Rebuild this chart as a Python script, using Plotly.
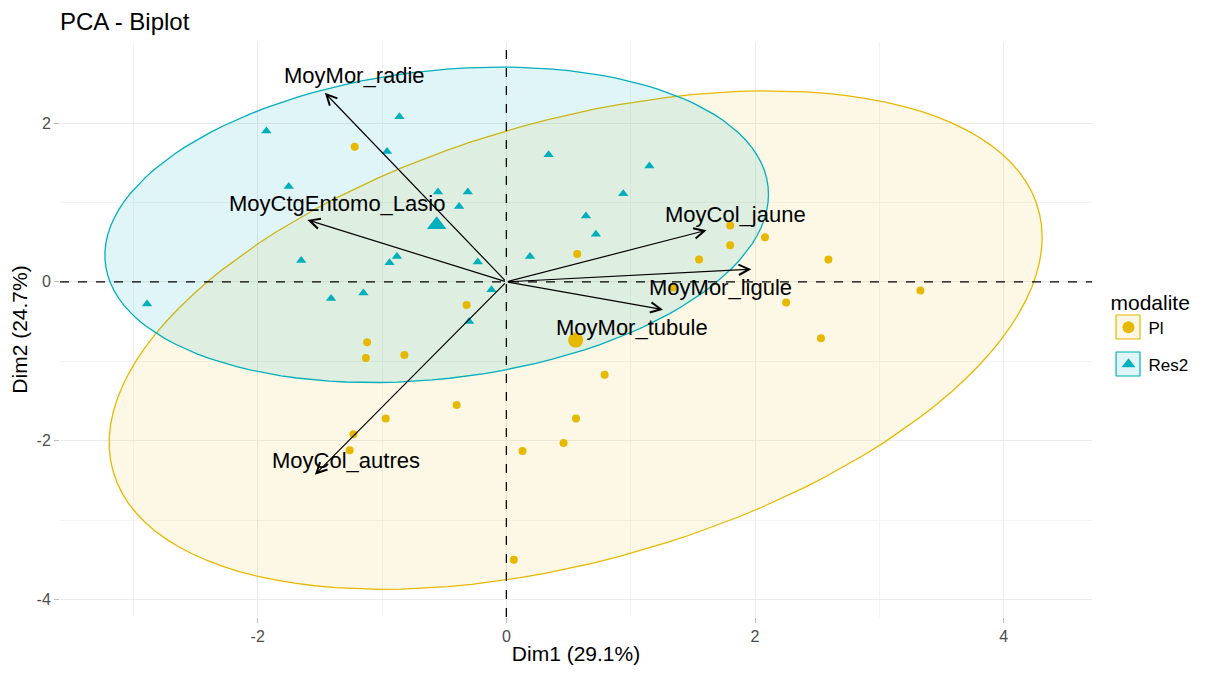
import numpy as np
import plotly.graph_objects as go

# ---------------- data ----------------
pl_x = [-1.22, -0.32, 0.57, 1.80, 2.08, 1.80, 1.55, 2.59, 3.33, 2.25, 1.34, 2.53,
        0.79, 0.56, 0.46, 0.13, 0.06, -1.12, -1.13, -0.82, -0.40, -0.97, -1.23, -1.26]
pl_y = [1.70, -0.29, 0.35, 0.71, 0.56, 0.46, 0.28, 0.28, -0.11, -0.26, -0.07, -0.71,
        -1.17, -1.72, -2.03, -2.13, -3.50, -0.76, -0.96, -0.92, -1.55, -1.72, -1.92, -2.12]

res_x = [-1.93, -0.86, -0.96, -1.75, -0.55, -0.31, -0.38, -1.65, -0.94, -0.88, -0.23,
         -1.41, -1.15, -0.12, -2.89, -0.30, 0.34, 1.15, 0.94, 0.64, 0.72, 0.19]
res_y = [1.90, 2.08, 1.64, 1.20, 1.13, 1.13, 0.95, 0.27, 0.24, 0.32, 0.25,
         -0.21, -0.14, -0.10, -0.28, -0.50, 1.60, 1.46, 1.11, 0.83, 0.60, 0.32]

var_names = ["MoyMor_radie", "MoyCtgEntomo_Lasio", "MoyCol_jaune",
             "MoyMor_ligule", "MoyMor_tubule", "MoyCol_autres"]
var_x = [-1.46, -1.60, 1.61, 1.97, 1.26, -1.54]
var_y = [2.38, 0.78, 0.65, 0.16, -0.35, -2.43]

groups = ["Pl", "Res2"]
x_ticks = [-2, 0, 2, 4]
y_ticks = [-4, -2, 0, 2]
x_title = "Dim1 (29.1%)"
y_title = "Dim2 (24.7%)"
chart_title = "PCA - Biplot"
legend_title = "modalite"

# ---------------- styles ----------------
COL = {"Pl": "#E7B800", "Res2": "#00AFBB"}
FILL = {"Pl": "rgba(231,184,0,0.10)", "Res2": "rgba(0,175,187,0.12)"}
SYM = {"Pl": "circle", "Res2": "triangle-up"}
label_nudge = [(30, 17), (30, 16), (29, 16), (-31, -18), (-31, -18), (31, 14)]
# legend key boxes (paper coords: x0, x1, y0, y1)
KEY_BOX = {"Pl": (1.0233, 1.0465, 0.4835, 0.5252),
           "Res2": (1.0233, 1.0465, 0.4191, 0.4609)}
FONT = "Liberation Sans, Arial, sans-serif"


def norm_ellipse(x, y, level=0.95, n_seg=120):
    x = np.asarray(x); y = np.asarray(y)
    n = len(x)
    d2 = n - 1
    fq = (d2 / 2.0) * ((1 - level) ** (-2.0 / d2) - 1)  # qf(level, 2, n-1)
    radius = np.sqrt(2 * fq)
    cov = np.cov(np.vstack([x, y]))
    center = np.array([x.mean(), y.mean()])
    chol = np.linalg.cholesky(cov)
    t = np.linspace(0, 2 * np.pi, n_seg)
    unit = np.vstack([np.cos(t), np.sin(t)])
    pts = center[:, None] + radius * chol @ unit
    return pts[0], pts[1]


data = {"Pl": (pl_x, pl_y), "Res2": (res_x, res_y)}

fig = go.Figure()

# ellipses
for g in groups:
    ex, ey = norm_ellipse(*data[g])
    fig.add_trace(go.Scatter(x=ex, y=ey, mode="lines", fill="toself",
                             fillcolor=FILL[g], line=dict(color=COL[g], width=1.3),
                             showlegend=False, hoverinfo="skip"))

# individual points
for g in groups:
    gx, gy = data[g]
    fig.add_trace(go.Scatter(x=gx, y=gy, mode="markers", name=g, legendgroup=g,
                             marker=dict(color=COL[g], symbol=SYM[g],
                                         size=8 if g == "Pl" else 9,
                                         line=dict(width=0)),
                             showlegend=True))

# group means
for g in groups:
    gx, gy = data[g]
    fig.add_trace(go.Scatter(x=[np.mean(gx)], y=[np.mean(gy)], mode="markers",
                             legendgroup=g,
                             marker=dict(color=COL[g], symbol=SYM[g],
                                         size=15 if g == "Pl" else 17,
                                         line=dict(width=0)),
                             showlegend=False, hoverinfo="skip"))

# reference dashed lines
fig.add_hline(y=0, line=dict(color="black", width=1.3, dash="dash"))
fig.add_vline(x=0, line=dict(color="black", width=1.3, dash="dash"))

# legend key boxes (ellipse keys)
for g in groups:
    x0, x1, y0, y1 = KEY_BOX[g]
    fig.add_shape(type="rect", xref="paper", yref="paper", x0=x0, x1=x1,
                  y0=y0, y1=y1, fillcolor=FILL[g],
                  line=dict(color=COL[g], width=1.2), layer="above")

# variable arrows and labels
for name, vx, vy, (dx, dy) in zip(var_names, var_x, var_y, label_nudge):
    fig.add_annotation(x=vx, y=vy, ax=0, ay=0, xref="x", yref="y",
                       axref="x", ayref="y", text="", showarrow=True,
                       arrowhead=5, arrowsize=1.7, arrowwidth=1.2,
                       arrowcolor="black", standoff=0, startstandoff=0)
    fig.add_annotation(x=vx, y=vy, xref="x", yref="y", text=name,
                       showarrow=False, xshift=dx, yshift=dy,
                       font=dict(family=FONT, size=22, color="black"))

fig.update_layout(
    width=1212, height=665,
    paper_bgcolor="white", plot_bgcolor="white",
    margin=dict(l=52, r=128, t=34, b=56, autoexpand=False),
    font=dict(family=FONT, color="black"),
    title=dict(text=chart_title, x=0, xref="paper", xanchor="left",
               y=0.979, yref="container", yanchor="middle",
               font=dict(family=FONT, size=24, color="black")),
    legend=dict(title=dict(text=legend_title, font=dict(size=21, color="black")),
                font=dict(size=17, color="black"),
                x=1.016, xanchor="left", y=0.495, yanchor="middle",
                itemsizing="constant", bgcolor="rgba(0,0,0,0)",
                tracegroupgap=12),
    showlegend=True,
)

fig.update_xaxes(range=[-3.59, 4.71], tickvals=x_ticks, automargin=False,
                 ticktext=[str(v) for v in x_ticks],
                 showgrid=True, gridcolor="#EBEBEB", gridwidth=1.2,
                 minor=dict(tickvals=[-3, -1, 1, 3], showgrid=True,
                            gridcolor="#F3F3F3", gridwidth=0.8),
                 zeroline=False, showline=False,
                 ticks="outside", ticklen=5, tickcolor="#BBBBBB", tickwidth=1,
                 tickfont=dict(size=16, color="#4D4D4D", family=FONT),
                 title=dict(text=x_title, standoff=2,
                            font=dict(size=21, color="black", family=FONT)))
fig.update_yaxes(range=[-4.22, 3.02], tickvals=y_ticks, automargin=False,
                 ticktext=[str(v) for v in y_ticks],
                 showgrid=True, gridcolor="#EBEBEB", gridwidth=1.2,
                 minor=dict(tickvals=[-3, -1, 1], showgrid=True,
                            gridcolor="#F3F3F3", gridwidth=0.8),
                 zeroline=False, showline=False,
                 ticks="outside", ticklen=5, tickcolor="#BBBBBB", tickwidth=1,
                 tickfont=dict(size=16, color="#4D4D4D", family=FONT),
                 title=dict(text=y_title, standoff=4,
                            font=dict(size=21, color="black", family=FONT)))

fig.write_html("out.html")
